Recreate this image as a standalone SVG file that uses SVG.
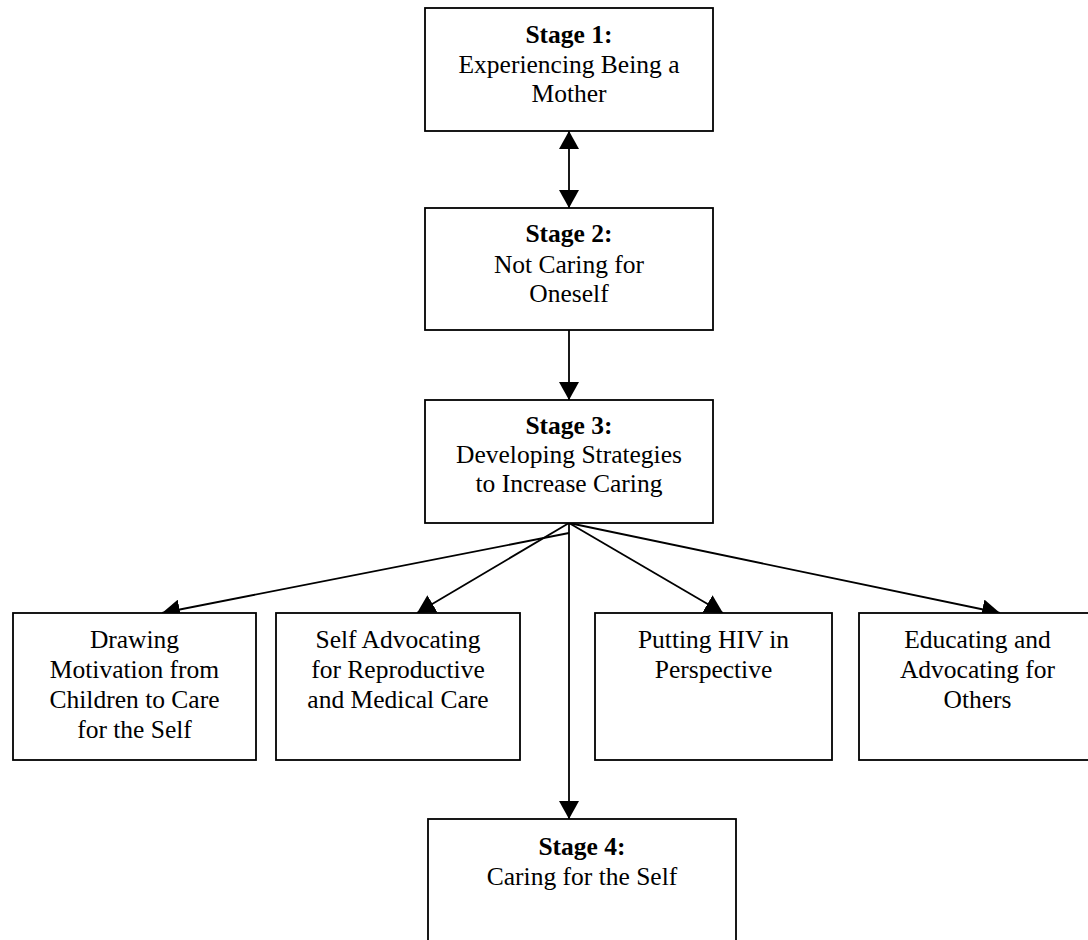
<svg xmlns="http://www.w3.org/2000/svg" width="1088" height="940" viewBox="0 0 1088 940">
<style>
.box{fill:#fff;stroke:#000;stroke-width:1.8}
.t{font-family:"Liberation Serif","Times New Roman",serif;font-size:25.5px;fill:#000;text-anchor:middle}
.b{font-weight:bold}
.c{stroke:#000;stroke-width:1.8;fill:none}
</style>
<defs>
<marker id="ah" viewBox="0 0 18 20" refX="18" refY="10" markerWidth="18" markerHeight="20" markerUnits="userSpaceOnUse" orient="auto-start-reverse">
<path d="M0,0 L18,10 L0,20 Z" fill="#000"/>
</marker>
</defs>
<rect width="1088" height="940" fill="#fff"/>
<g id="connectors">
<line class="c" x1="569" y1="131" x2="569" y2="208" marker-start="url(#ah)" marker-end="url(#ah)"/>
<line class="c" x1="569" y1="330" x2="569" y2="400" marker-end="url(#ah)"/>
<line class="c" x1="569" y1="523" x2="569" y2="819" marker-end="url(#ah)"/>
<line class="c" x1="569" y1="533" x2="162" y2="613" marker-end="url(#ah)"/>
<line class="c" x1="569" y1="523" x2="417" y2="613" marker-end="url(#ah)"/>
<line class="c" x1="569" y1="523" x2="723" y2="613" marker-end="url(#ah)"/>
<line class="c" x1="569" y1="523" x2="1000" y2="613" marker-end="url(#ah)"/>
</g>
<g id="stage1">
<rect class="box" x="425" y="8" width="288" height="123"/>
<text class="t b" x="569" y="43">Stage 1:</text>
<text class="t" x="569" y="73">Experiencing Being a</text>
<text class="t" x="569" y="102">Mother</text>
</g>
<g id="stage2">
<rect class="box" x="425" y="208" width="288" height="122"/>
<text class="t b" x="569" y="242">Stage 2:</text>
<text class="t" x="569" y="273">Not Caring for</text>
<text class="t" x="569" y="302">Oneself</text>
</g>
<g id="stage3">
<rect class="box" x="425" y="400" width="288" height="123"/>
<text class="t b" x="569" y="434">Stage 3:</text>
<text class="t" x="569" y="463">Developing Strategies</text>
<text class="t" x="569" y="492">to Increase Caring</text>
</g>
<g id="drawing">
<rect class="box" x="13" y="613" width="243" height="147"/>
<text class="t" x="134.5" y="648">Drawing</text>
<text class="t" x="134.5" y="678">Motivation from</text>
<text class="t" x="134.5" y="708">Children to Care</text>
<text class="t" x="134.5" y="738">for the Self</text>
</g>
<g id="selfadvocating">
<rect class="box" x="276" y="613" width="244" height="147"/>
<text class="t" x="398" y="648">Self Advocating</text>
<text class="t" x="398" y="678">for Reproductive</text>
<text class="t" x="398" y="708">and Medical Care</text>
</g>
<g id="hiv">
<rect class="box" x="595" y="613" width="237" height="147"/>
<text class="t" x="713.5" y="648">Putting HIV in</text>
<text class="t" x="713.5" y="678">Perspective</text>
</g>
<g id="educating">
<rect class="box" x="859" y="613" width="237" height="147"/>
<text class="t" x="977.5" y="648">Educating and</text>
<text class="t" x="977.5" y="678">Advocating for</text>
<text class="t" x="977.5" y="708">Others</text>
</g>
<g id="stage4">
<rect class="box" x="428" y="819" width="308" height="140"/>
<text class="t b" x="582" y="855">Stage 4:</text>
<text class="t" x="582" y="885">Caring for the Self</text>
</g>
</svg>
